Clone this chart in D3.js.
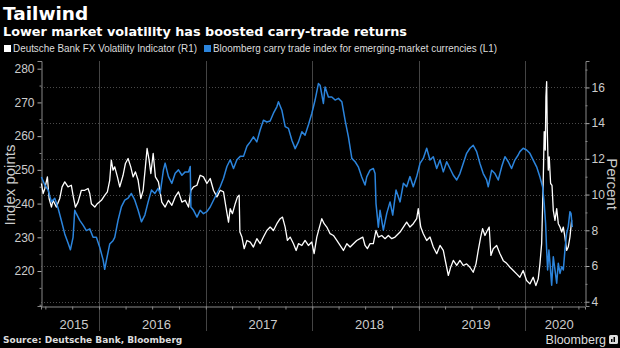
<!DOCTYPE html>
<html>
<head>
<meta charset="utf-8">
<script src="https://cdn.jsdelivr.net/npm/d3@7/dist/d3.min.js"></script>
<style>
  body { margin: 0; background: #000; }
  svg { display: block; }
</style>
</head>
<body>
<div id="chart"></div>
<script>
// decimal year, value
const fxVol = [
  [2015.459, 10.62], [2015.475, 10.06], [2015.491, 10.34], [2015.515, 10.99], [2015.531, 9.78],
  [2015.553, 9.30], [2015.568, 9.68], [2015.599, 9.30], [2015.631, 9.78], [2015.653, 10.43],
  [2015.678, 10.71], [2015.709, 10.43], [2015.740, 10.52], [2015.756, 9.96], [2015.778, 9.30],
  [2015.803, 9.58], [2015.834, 10.24], [2015.866, 10.24], [2015.897, 10.34], [2015.913, 10.06],
  [2015.928, 9.49], [2015.960, 9.30], [2015.984, 9.49], [2016.022, 9.68], [2016.053, 9.96],
  [2016.078, 10.15], [2016.100, 10.80], [2016.115, 11.93], [2016.131, 11.37], [2016.147, 11.55],
  [2016.172, 10.99], [2016.194, 10.43], [2016.225, 11.08], [2016.247, 11.74], [2016.272, 12.02],
  [2016.297, 11.55], [2016.319, 10.99], [2016.341, 11.27], [2016.366, 10.80], [2016.391, 9.78],
  [2016.413, 10.24], [2016.434, 11.55], [2016.450, 12.58], [2016.469, 11.93], [2016.485, 11.18],
  [2016.507, 12.30], [2016.528, 10.99], [2016.556, 10.71], [2016.588, 9.58], [2016.619, 9.30],
  [2016.650, 9.68], [2016.682, 9.40], [2016.713, 9.87], [2016.744, 10.15], [2016.776, 9.58],
  [2016.807, 9.68], [2016.838, 9.30], [2016.860, 10.24], [2016.885, 10.43], [2016.917, 10.52],
  [2016.947, 11.08], [2016.978, 10.99], [2017.010, 10.62], [2017.041, 10.90], [2017.072, 10.24],
  [2017.104, 9.87], [2017.135, 10.24], [2017.166, 10.15], [2017.189, 9.30], [2017.213, 8.46],
  [2017.229, 9.21], [2017.250, 8.93], [2017.276, 9.49], [2017.297, 9.87], [2017.313, 9.96],
  [2017.320, 7.90], [2017.339, 7.62], [2017.360, 6.97], [2017.386, 7.43], [2017.417, 7.34],
  [2017.447, 7.06], [2017.479, 7.53], [2017.510, 7.25], [2017.541, 7.62], [2017.573, 7.99],
  [2017.604, 8.18], [2017.635, 7.99], [2017.667, 8.37], [2017.698, 8.65], [2017.720, 8.74],
  [2017.745, 8.18], [2017.766, 7.43], [2017.792, 7.62], [2017.823, 7.25], [2017.848, 6.87],
  [2017.870, 7.25], [2017.902, 7.15], [2017.932, 7.43], [2017.963, 7.15], [2017.995, 7.34],
  [2018.017, 6.69], [2018.042, 7.62], [2018.067, 8.18], [2018.089, 8.65], [2018.111, 8.37],
  [2018.136, 8.18], [2018.167, 7.81], [2018.198, 7.71], [2018.230, 7.43], [2018.261, 7.15],
  [2018.292, 6.87], [2018.324, 7.25], [2018.355, 7.06], [2018.386, 7.25], [2018.417, 7.43],
  [2018.448, 7.53], [2018.474, 7.62], [2018.495, 7.15], [2018.517, 6.97], [2018.542, 7.25],
  [2018.573, 7.25], [2018.598, 7.99], [2018.620, 7.62], [2018.652, 7.71], [2018.683, 7.53],
  [2018.714, 7.71], [2018.746, 7.53], [2018.777, 7.62], [2018.824, 7.90], [2018.855, 8.18],
  [2018.886, 8.46], [2018.917, 8.18], [2018.948, 8.37], [2018.980, 8.65], [2018.995, 9.21],
  [2019.018, 8.18], [2019.042, 7.81], [2019.074, 7.43], [2019.105, 7.62], [2019.136, 7.06],
  [2019.168, 6.69], [2019.199, 7.15], [2019.230, 6.87], [2019.252, 6.21], [2019.277, 5.47],
  [2019.299, 5.93], [2019.324, 6.31], [2019.356, 6.03], [2019.386, 6.31], [2019.417, 6.03],
  [2019.449, 6.12], [2019.480, 5.93], [2019.511, 5.65], [2019.537, 6.12], [2019.558, 6.87],
  [2019.581, 7.62], [2019.599, 8.09], [2019.621, 7.71], [2019.643, 7.99], [2019.661, 8.18],
  [2019.677, 6.59], [2019.699, 6.97], [2019.731, 7.15], [2019.762, 6.69], [2019.793, 6.30],
  [2019.825, 6.15], [2019.856, 5.93], [2019.887, 5.75], [2019.918, 5.56], [2019.949, 5.37],
  [2019.980, 5.75], [2020.012, 5.19], [2020.043, 5.00], [2020.074, 5.37], [2020.099, 4.90],
  [2020.121, 5.28], [2020.137, 6.12], [2020.153, 7.25], [2020.168, 10.80], [2020.177, 13.52],
  [2020.187, 12.49], [2020.193, 15.48], [2020.200, 16.33], [2020.205, 13.80], [2020.215, 11.37],
  [2020.224, 12.11], [2020.237, 10.62], [2020.250, 10.52], [2020.262, 9.12], [2020.278, 8.56],
  [2020.294, 9.21], [2020.309, 8.37], [2020.325, 8.18], [2020.341, 7.90], [2020.356, 8.18],
  [2020.371, 7.62], [2020.387, 6.87], [2020.402, 7.06], [2020.418, 7.62], [2020.434, 8.56]
];

const carryIndex = [
  [2015.459, 247.9], [2015.491, 245.5], [2015.522, 244.0], [2015.553, 240.5], [2015.584, 241.6],
  [2015.615, 238.7], [2015.646, 235.0], [2015.678, 231.0], [2015.709, 228.3], [2015.731, 226.3],
  [2015.756, 230.0], [2015.772, 238.0], [2015.787, 237.0], [2015.819, 235.0], [2015.850, 233.6],
  [2015.881, 232.0], [2015.913, 232.5], [2015.944, 230.0], [2015.975, 230.0], [2016.007, 227.0],
  [2016.038, 223.3], [2016.053, 220.5], [2016.068, 223.0], [2016.100, 228.0], [2016.131, 229.0],
  [2016.147, 230.0], [2016.178, 235.0], [2016.209, 239.0], [2016.241, 241.0], [2016.272, 241.6],
  [2016.303, 243.0], [2016.335, 241.0], [2016.366, 238.0], [2016.397, 234.6], [2016.429, 236.6],
  [2016.460, 240.5], [2016.491, 244.0], [2016.523, 243.0], [2016.553, 244.5], [2016.572, 243.0],
  [2016.603, 250.0], [2016.619, 252.0], [2016.650, 248.0], [2016.682, 246.0], [2016.713, 249.0],
  [2016.744, 250.0], [2016.776, 248.4], [2016.807, 249.4], [2016.838, 249.4], [2016.854, 251.0],
  [2016.860, 239.0], [2016.885, 238.0], [2016.917, 236.0], [2016.947, 238.0], [2016.978, 237.0],
  [2017.010, 237.6], [2017.041, 239.0], [2017.072, 241.0], [2017.104, 243.0], [2017.135, 245.0],
  [2017.166, 247.5], [2017.198, 251.0], [2017.229, 253.0], [2017.260, 250.4], [2017.292, 253.0],
  [2017.323, 254.0], [2017.354, 254.0], [2017.386, 257.0], [2017.417, 258.3], [2017.447, 259.8],
  [2017.479, 258.3], [2017.510, 261.8], [2017.541, 264.7], [2017.573, 264.2], [2017.604, 264.5],
  [2017.635, 266.8], [2017.667, 268.7], [2017.682, 270.2], [2017.714, 267.7], [2017.745, 262.8],
  [2017.776, 262.3], [2017.808, 258.8], [2017.839, 256.3], [2017.870, 258.3], [2017.902, 261.3],
  [2017.932, 260.3], [2017.963, 263.3], [2017.995, 266.7], [2018.026, 270.7], [2018.057, 275.6],
  [2018.073, 275.1], [2018.104, 269.7], [2018.120, 274.6], [2018.151, 271.6], [2018.183, 271.6],
  [2018.214, 270.7], [2018.245, 271.2], [2018.277, 270.2], [2018.308, 264.7], [2018.339, 259.8],
  [2018.371, 253.4], [2018.402, 252.4], [2018.432, 250.9], [2018.464, 247.9], [2018.495, 245.5],
  [2018.511, 247.9], [2018.542, 249.9], [2018.573, 250.4], [2018.589, 248.9], [2018.598, 240.0],
  [2018.620, 233.0], [2018.636, 238.0], [2018.667, 232.1], [2018.699, 237.1], [2018.730, 240.5],
  [2018.755, 236.6], [2018.786, 244.0], [2018.824, 240.5], [2018.855, 246.0], [2018.886, 245.0],
  [2018.917, 248.0], [2018.948, 245.0], [2018.980, 248.0], [2019.011, 251.9], [2019.042, 253.4],
  [2019.074, 256.4], [2019.105, 252.9], [2019.136, 253.9], [2019.168, 250.4], [2019.199, 252.9],
  [2019.230, 249.4], [2019.262, 252.4], [2019.293, 250.4], [2019.324, 248.4], [2019.356, 247.0],
  [2019.386, 248.9], [2019.417, 251.9], [2019.449, 254.9], [2019.480, 256.4], [2019.511, 257.3],
  [2019.543, 255.4], [2019.574, 251.9], [2019.605, 248.9], [2019.637, 247.0], [2019.652, 245.0],
  [2019.684, 249.9], [2019.715, 248.9], [2019.746, 247.0], [2019.778, 250.9], [2019.809, 253.9],
  [2019.840, 252.4], [2019.871, 250.4], [2019.902, 252.9], [2019.933, 254.4], [2019.949, 255.4],
  [2019.980, 256.4], [2020.012, 255.9], [2020.043, 254.9], [2020.074, 252.9], [2020.106, 250.9],
  [2020.137, 247.9], [2020.162, 245.0], [2020.177, 240.0], [2020.190, 234.1], [2020.200, 226.2],
  [2020.209, 220.3], [2020.221, 226.2], [2020.231, 222.3], [2020.247, 215.8], [2020.262, 224.2],
  [2020.278, 220.3], [2020.294, 216.4], [2020.309, 222.3], [2020.325, 219.3], [2020.341, 221.3],
  [2020.356, 220.3], [2020.371, 226.2], [2020.387, 231.2], [2020.402, 233.1], [2020.418, 237.6],
  [2020.428, 237.1], [2020.440, 233.0]
];

const leftTicks = [220, 230, 240, 250, 260, 270, 280];
const leftMinor = [210, 215, 225, 235, 245, 255, 265, 275];
const rightTicks = [4, 6, 8, 10, 12, 14, 16];
const rightMinor = [5, 7, 9, 11, 13, 15, 17];
const yearLabels = [2015, 2016, 2017, 2018, 2019, 2020];

const width = 620, height = 348;
const plot = {left: 41, right: 585, top: 61, bottom: 306};

function decYear(t) {
    const y = Math.floor(t);
    const a = new Date(y, 0, 1), b = new Date(y + 1, 0, 1);
    return new Date(+a + (t - y) * (b - a));
}

const x = d3.scaleTime()
    .domain([decYear(2015.455), decYear(2020.559)])
    .range([plot.left, plot.right]);

const yL = d3.scaleLinear()
    .domain([209.63, 282.28])
    .range([plot.bottom, plot.top]);

const yR = d3.scaleLinear()
    .domain([3.76, 17.48])
    .range([plot.bottom, plot.top]);

const svg = d3.select('#chart')
    .append('svg')
    .attr('width', width)
    .attr('height', height)
    .style('background', '#000');

const narrow = '"Liberation Sans Narrow", "Liberation Sans", Arial, sans-serif';
const bold = '"DejaVu Sans", sans-serif';

// titles
svg.append('text')
    .attr('x', 3).attr('y', 20)
    .attr('fill', '#fff')
    .style('font', `bold 18.5px ${bold}`)
    .text('Tailwind');

svg.append('text')
    .attr('x', 3).attr('y', 36)
    .attr('fill', '#fff')
    .style('font', `bold 12.8px ${bold}`)
    .text('Lower market volatility has boosted carry-trade returns');

// legend
const legend = [
    {label: 'Deutsche Bank FX Volatility Indicator (R1)', color: '#ffffff', x: 4, w: 184},
    {label: 'Bloomberg carry trade index for emerging-market currencies (L1)', color: '#2b84dc', x: 204, w: 284}
];
const lg = svg.append('g').selectAll('g').data(legend).join('g');
lg.append('rect')
    .attr('x', d => d.x).attr('y', 45)
    .attr('width', 7).attr('height', 7)
    .attr('fill', d => d.color);
lg.append('text')
    .attr('x', d => d.x + 9).attr('y', 52)
    .attr('fill', '#ddd')
    .attr('textLength', d => d.w)
    .attr('lengthAdjust', 'spacingAndGlyphs')
    .style('font', `10.5px ${narrow}`)
    .text(d => d.label);

// horizontal grid (on right axis ticks)
svg.append('g')
    .selectAll('line')
    .data(rightTicks)
    .join('line')
    .attr('x1', plot.left).attr('x2', plot.right)
    .attr('y1', d => Math.round(yR(d)) + 0.5).attr('y2', d => Math.round(yR(d)) + 0.5)
    .attr('stroke', '#4a4a4a')
    .attr('stroke-width', 1)
    .attr('stroke-dasharray', '1,2');

// year separators
const yearStarts = d3.timeYear.range(x.domain()[0], x.domain()[1]).filter(d => d > x.domain()[0]);
svg.append('g')
    .selectAll('line')
    .data(yearStarts)
    .join('line')
    .attr('x1', d => Math.round(x(d)) + 0.5).attr('x2', d => Math.round(x(d)) + 0.5)
    .attr('y1', plot.top).attr('y2', 331)
    .attr('stroke', '#444')
    .attr('stroke-width', 1);

// bottom axis with quarterly ticks
const xAxis = d3.axisBottom(x)
    .ticks(d3.timeMonth.every(3))
    .tickSize(3)
    .tickFormat('');
const gx = svg.append('g')
    .attr('transform', `translate(0,${plot.bottom + 0.5})`)
    .call(xAxis);
gx.select('.domain').attr('stroke', '#888');
gx.selectAll('.tick line').attr('stroke', '#888');

// year labels centred in the visible part of each year
const [d0, d1] = x.domain();
svg.append('g')
    .selectAll('text')
    .data(yearLabels)
    .join('text')
    .attr('x', d => {
        const a = Math.max(x(new Date(d, 0, 1)), x(d0));
        const b = Math.min(x(new Date(d + 1, 0, 1)), x(d1));
        return (a + b) / 2 + 4;
    })
    .attr('y', 329)
    .attr('text-anchor', 'middle')
    .attr('fill', '#ccc')
    .style('font', `13px ${narrow}`)
    .text(d => d);

// left axis
const gl = svg.append('g')
    .attr('transform', `translate(${plot.left + 0.5},0)`)
    .call(d3.axisLeft(yL).tickValues(leftTicks).tickSize(4).tickPadding(3));
gl.select('.domain').attr('stroke', '#888');
gl.selectAll('.tick line').attr('stroke', '#aaa');
gl.selectAll('.tick text').attr('fill', '#ccc').style('font', `12px ${narrow}`);
svg.append('g')
    .attr('transform', `translate(${plot.left + 0.5},0)`)
    .call(d3.axisLeft(yL).tickValues(leftMinor).tickSize(2).tickFormat(''))
    .call(g => g.select('.domain').remove())
    .selectAll('.tick line').attr('stroke', '#888');

// right axis
const gr = svg.append('g')
    .attr('transform', `translate(${plot.right + 0.5},0)`)
    .call(d3.axisRight(yR).tickValues(rightTicks).tickSize(4).tickPadding(2));
gr.select('.domain').attr('stroke', '#888');
gr.selectAll('.tick line').attr('stroke', '#aaa');
gr.selectAll('.tick text').attr('fill', '#ccc').style('font', `12px ${narrow}`);
svg.append('g')
    .attr('transform', `translate(${plot.right + 0.5},0)`)
    .call(d3.axisRight(yR).tickValues(rightMinor.filter(v => v < 17.4)).tickSize(2).tickFormat(''))
    .call(g => g.select('.domain').remove())
    .selectAll('.tick line').attr('stroke', '#888');

// axis titles
svg.append('text')
    .attr('transform', `translate(15,185) rotate(-90)`)
    .attr('text-anchor', 'middle')
    .attr('fill', '#ccc')
    .style('font', `15px ${narrow}`)
    .text('Index points');

svg.append('text')
    .attr('transform', `translate(607,184) rotate(90)`)
    .attr('text-anchor', 'middle')
    .attr('fill', '#ccc')
    .style('font', `15px ${narrow}`)
    .text('Percent');

// series
const lineR = d3.line()
    .x(d => x(decYear(d[0])))
    .y(d => yR(d[1]));
const lineL = d3.line()
    .x(d => x(decYear(d[0])))
    .y(d => yL(d[1]));

svg.append('path')
    .datum(fxVol)
    .attr('fill', 'none')
    .attr('stroke', '#ffffff')
    .attr('stroke-width', 1.3)
    .attr('stroke-linejoin', 'round')
    .attr('d', lineR);

svg.append('path')
    .datum(carryIndex)
    .attr('fill', 'none')
    .attr('stroke', '#2b84dc')
    .attr('stroke-width', 1.5)
    .attr('stroke-linejoin', 'round')
    .attr('d', lineL);

// footer
svg.append('text')
    .attr('x', 3).attr('y', 343)
    .attr('fill', '#ddd')
    .style('font', `bold 9px ${bold}`)
    .text('Source: Deutsche Bank, Bloomberg');

svg.append('text')
    .attr('x', 606).attr('y', 344)
    .attr('text-anchor', 'end')
    .attr('fill', '#ddd')
    .style('font', `12.5px ${narrow}`)
    .text('Bloomberg');

const logo = svg.append('g').attr('transform', 'translate(609,335)');
logo.append('rect')
    .attr('width', 9).attr('height', 9).attr('rx', 1.5)
    .attr('fill', '#ddd');
logo.append('rect')
    .attr('x', 2).attr('y', 4).attr('width', 1.5).attr('height', 3)
    .attr('fill', '#000');
logo.append('rect')
    .attr('x', 4.5).attr('y', 2).attr('width', 1.5).attr('height', 5)
    .attr('fill', '#000');
</script>
</body>
</html>
